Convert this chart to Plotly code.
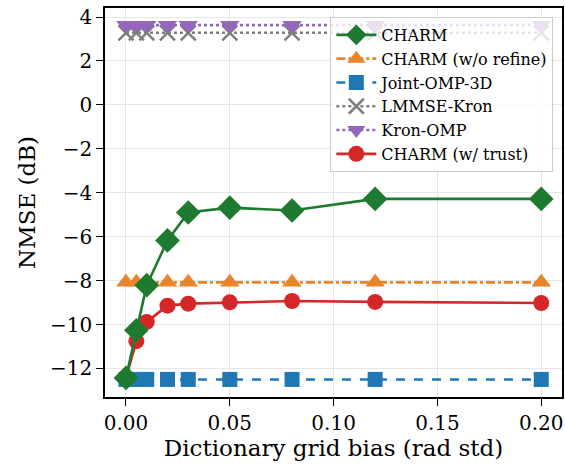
import plotly.graph_objects as go

x_bias = [0.0, 0.005, 0.01, 0.02, 0.03, 0.05, 0.08, 0.12, 0.2]
charm = [-12.43, -10.26, -8.21, -6.17, -4.90, -4.68, -4.81, -4.28, -4.28]
charm_norefine = [-8.08, -8.08, -8.08, -8.08, -8.08, -8.08, -8.08, -8.08, -8.08]
joint_omp = [-12.5, -12.5, -12.5, -12.5, -12.5, -12.5, -12.5, -12.5, -12.5]
lmmse_kron = [3.28, 3.28, 3.28, 3.28, 3.28, 3.28, 3.28, 3.28, 3.28]
kron_omp = [3.63, 3.63, 3.63, 3.63, 3.63, 3.63, 3.63, 3.63, 3.63]
charm_trust = [-12.43, -10.76, -9.88, -9.14, -9.05, -8.99, -8.93, -8.97, -9.02]

x_ticks = [0.0, 0.05, 0.10, 0.15, 0.20]
y_ticks = [-12, -10, -8, -6, -4, -2, 0, 2, 4]

FONT = "DejaVu Serif"
fig = go.Figure()

def add(name, y, color, dash, symbol, size, rank, open_x=False):
    marker = dict(symbol=symbol, size=size, color=color)
    if open_x:
        marker["line"] = dict(color=color, width=2.5)
    else:
        marker["line"] = dict(width=0)
    fig.add_trace(go.Scatter(
        x=x_bias, y=y, name=name, mode="lines+markers",
        line=dict(color=color, width=2.6, dash=dash),
        marker=marker, legendrank=rank))

add("CHARM (w/o refine)", charm_norefine, "#e8842a", "dashdot", "triangle-up", 17, 2)
add("Joint-OMP-3D", joint_omp, "#1f77b4", "dash", "square", 15, 3)
add("LMMSE-Kron", lmmse_kron, "#7f7f7f", "dot", "x-thin", 15, 4, open_x=True)
add("Kron-OMP", kron_omp, "#9467bd", "dot", "triangle-down", 17, 5)
add("CHARM (w/ trust)", charm_trust, "#d62728", "solid", "circle", 16, 6)
add("CHARM", charm, "#1f7a31", "solid", "diamond", 19, 1)

axis_common = dict(
    showline=True, linecolor="black", linewidth=1.5, mirror=True,
    ticks="outside", ticklen=7, tickwidth=1.2, tickcolor="black",
    showgrid=True, gridcolor="#e6e6e6", gridwidth=1, zeroline=False,
    automargin=False,
    tickfont=dict(family=FONT, size=20, color="black"),
)

fig.update_layout(
    width=565, height=468,
    margin=dict(l=105, r=3, t=8, b=71),
    plot_bgcolor="white", paper_bgcolor="white",
    font=dict(family=FONT, color="black"),
    xaxis=dict(range=[-0.0101, 0.2100], tickvals=x_ticks, tickformat=".2f",
               title=dict(text="Dictionary grid bias (rad std)", font=dict(family=FONT, size=23), standoff=6),
               **axis_common),
    yaxis=dict(range=[-13.3, 4.41], tickvals=y_ticks,
               title=dict(text="NMSE (dB)", font=dict(family=FONT, size=23), standoff=8),
               **axis_common),
    legend=dict(x=0.981, y=0.977, xanchor="right", yanchor="top",
                bgcolor="rgba(255,255,255,0.8)", bordercolor="#cccccc", borderwidth=1,
                font=dict(family=FONT, size=16, color="black"), traceorder="normal",
                itemwidth=40, tracegroupgap=0),
    showlegend=True,
)

fig.write_html("out.html", config={"displayModeBar": False},
               post_script="document.body.style.margin='0';document.body.style.overflow='hidden';")
